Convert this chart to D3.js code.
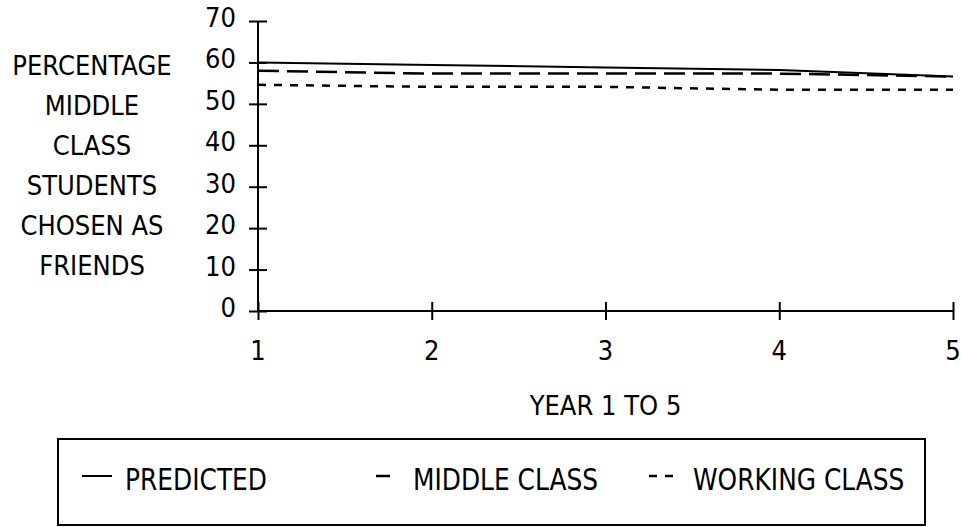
<!DOCTYPE html>
<html>
<head>
<meta charset="utf-8">
<script src="https://cdn.jsdelivr.net/npm/d3@7"></script>
<style>
  html, body { margin: 0; padding: 0; background: #fff; }
  svg { display: block; }
  text { font-family: "DejaVu Sans", Verdana, sans-serif; fill: #000; }
</style>
</head>
<body>
<svg id="chart" width="962" height="527"></svg>
<script>
// ---- data ----
const years = [1, 2, 3, 4, 5];
const predicted = [60, 59.4, 58.8, 58.2, 56.6];
const middleClass = [58.0, 57.3, 57.3, 57.3, 56.6];
const workingClass = [54.6, 54.1, 54.1, 53.4, 53.4];
const yTickValues = [0, 10, 20, 30, 40, 50, 60, 70];
const xTickValues = [1, 2, 3, 4, 5];
const yTitleLines = ["PERCENTAGE", "MIDDLE", "CLASS", "STUDENTS", "CHOSEN AS", "FRIENDS"];
const xTitle = "YEAR 1 TO 5";
const seriesNames = ["PREDICTED", "MIDDLE CLASS", "WORKING CLASS"];

const svg = d3.select("#chart");
const x = d3.scaleLinear().domain([1, 5]).range([258, 953]);
const y = d3.scaleLinear().domain([0, 70]).range([311, 21]);

const series = [
  { name: seriesNames[0], values: predicted, dash: null, width: 2 },
  { name: seriesNames[1], values: middleClass, dash: "21,8", width: 2.5 },
  { name: seriesNames[2], values: workingClass, dash: "8,8", width: 2.5 }
];

// ---- axes ----
const yAxis = d3.axisLeft(y).tickValues(yTickValues).tickSize(9).tickFormat("");
const gy = svg.append("g").attr("transform", `translate(${x(1)},0)`).call(yAxis);
gy.select(".domain").attr("d", `M0,${y(70)}V${y(0)}`).attr("stroke", "#000").attr("stroke-width", 2);
gy.selectAll(".tick line").attr("x1", 9).attr("x2", -9).attr("stroke", "#000").attr("stroke-width", 2);

const xAxis = d3.axisBottom(x).tickValues(xTickValues).tickSize(9).tickFormat("");
const gx = svg.append("g").attr("transform", `translate(0,${y(0)})`).call(xAxis);
gx.select(".domain").attr("d", `M${x(1)},0H${x(5)}`).attr("stroke", "#000").attr("stroke-width", 2);
gx.selectAll(".tick line").attr("y1", -9).attr("y2", 9).attr("stroke", "#000").attr("stroke-width", 2);

// tick labels
const sx = 0.9;
svg.append("g").selectAll("text").data(yTickValues).join("text")
  .attr("transform", d => `translate(236,${y(d) + 6}) scale(${sx},1)`)
  .attr("text-anchor", "end")
  .style("font-size", "27px")
  .text(d => d);

svg.append("g").selectAll("text").data(xTickValues).join("text")
  .attr("transform", d => `translate(${x(d)},360) scale(${sx},1)`)
  .attr("text-anchor", "middle")
  .style("font-size", "27px")
  .text(d => d);

// axis titles
svg.append("g").selectAll("text").data(yTitleLines).join("text")
  .attr("transform", (d, i) => `translate(92,${75 + i * 40}) scale(${sx},1)`)
  .attr("text-anchor", "middle")
  .style("font-size", "27px")
  .text(d => d);

svg.append("text")
  .attr("transform", `translate(${(x(1) + x(5)) / 2},415) scale(${sx},1)`)
  .attr("text-anchor", "middle")
  .style("font-size", "27px")
  .text(xTitle);

// ---- lines ----
const line = d3.line().x((d, i) => x(years[i])).y(d => y(d));
svg.append("g").selectAll("path").data(series).join("path")
  .attr("d", s => line(s.values))
  .attr("fill", "none")
  .attr("stroke", "#000")
  .attr("stroke-width", s => s.width)
  .attr("stroke-dasharray", s => s.dash);

// ---- legend ----
svg.append("rect")
  .attr("x", 58).attr("y", 439).attr("width", 867).attr("height", 86)
  .attr("fill", "none").attr("stroke", "#000").attr("stroke-width", 2);

const legendItems = [
  { s: series[0], x1: 82, x2: 112, tx: 125 },
  { s: series[1], x1: 376, x2: 390, tx: 413 },
  { s: series[2], x1: 649, x2: 673, tx: 693 }
];
const lg = svg.append("g");
lg.selectAll("line").data(legendItems).join("line")
  .attr("x1", d => d.x1).attr("x2", d => d.x2)
  .attr("y1", 476).attr("y2", 476)
  .attr("stroke", "#000")
  .attr("stroke-width", d => d.s.width)
  .attr("stroke-dasharray", d => d.s.dash);
lg.selectAll("text").data(legendItems).join("text")
  .attr("transform", d => `translate(${d.tx},490) scale(0.83,1)`)
  .style("font-size", "30px")
  .text(d => d.s.name);
</script>
</body>
</html>
